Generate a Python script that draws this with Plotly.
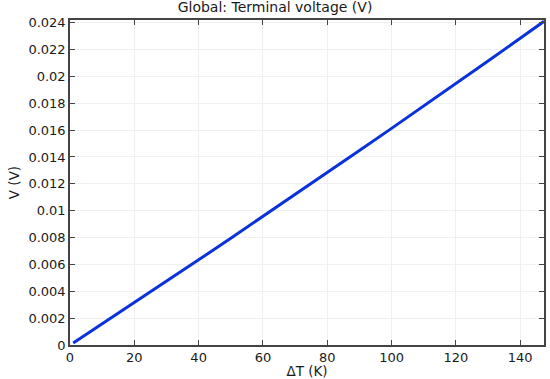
import plotly.graph_objects as go

# Temperature difference (K) and terminal voltage (V)
delta_t = [1, 10, 20, 30, 40, 50, 60, 70, 80, 90, 100, 110, 120, 130, 140, 147.4]
voltage = [0.000157, 0.00157, 0.00315, 0.00474, 0.00634, 0.00795, 0.00957, 0.01119,
           0.01283, 0.01448, 0.01613, 0.01779, 0.01947, 0.02115, 0.02284, 0.02410]

x_ticks = [0, 20, 40, 60, 80, 100, 120, 140]
y_ticks = [0, 0.002, 0.004, 0.006, 0.008, 0.01, 0.012, 0.014, 0.016, 0.018, 0.02, 0.022, 0.024]
y_labels = ["0", "0.002", "0.004", "0.006", "0.008", "0.01", "0.012", "0.014",
            "0.016", "0.018", "0.02", "0.022", "0.024"]

font_family = 'DejaVu Sans'
text_color = '#1a1a1a'

fig = go.Figure()
fig.add_trace(go.Scatter(
    x=delta_t,
    y=voltage,
    mode='lines',
    line=dict(color='#0a32dc', width=3),
    showlegend=False
))

axis_style = dict(
    showline=True,
    linecolor='#444444',
    linewidth=1.5,
    mirror='ticks',
    ticks='inside',
    ticklen=5,
    tickcolor='#444444',
    showgrid=True,
    gridcolor='#f0f0f0',
    gridwidth=1,
    zeroline=False,
    tickfont=dict(family=font_family, size=13, color=text_color),
)

fig.update_layout(
    width=550,
    height=379,
    margin=dict(l=70, r=4, t=20, b=34),
    paper_bgcolor='white',
    plot_bgcolor='white',
    title=dict(
        text='Global: Terminal voltage (V)',
        x=0.5, xref='container', xanchor='center',
        y=1, yref='container', yanchor='top',
        pad=dict(t=2),
        font=dict(family=font_family, size=14, color=text_color)
    ),
    xaxis=dict(
        range=[0, 147.4],
        tickvals=x_ticks,
        title=dict(text='ΔT (K)', standoff=0,
                   font=dict(family=font_family, size=13.5, color=text_color)),
        **axis_style
    ),
    yaxis=dict(
        range=[0, 0.0242],
        tickvals=y_ticks,
        ticktext=y_labels,
        title=dict(text='V (V)', standoff=6,
                   font=dict(family=font_family, size=13.5, color=text_color)),
        **axis_style
    ),
)

fig.write_html("out.html", config={'displayModeBar': False},
               post_script="document.body.style.margin='0';")
